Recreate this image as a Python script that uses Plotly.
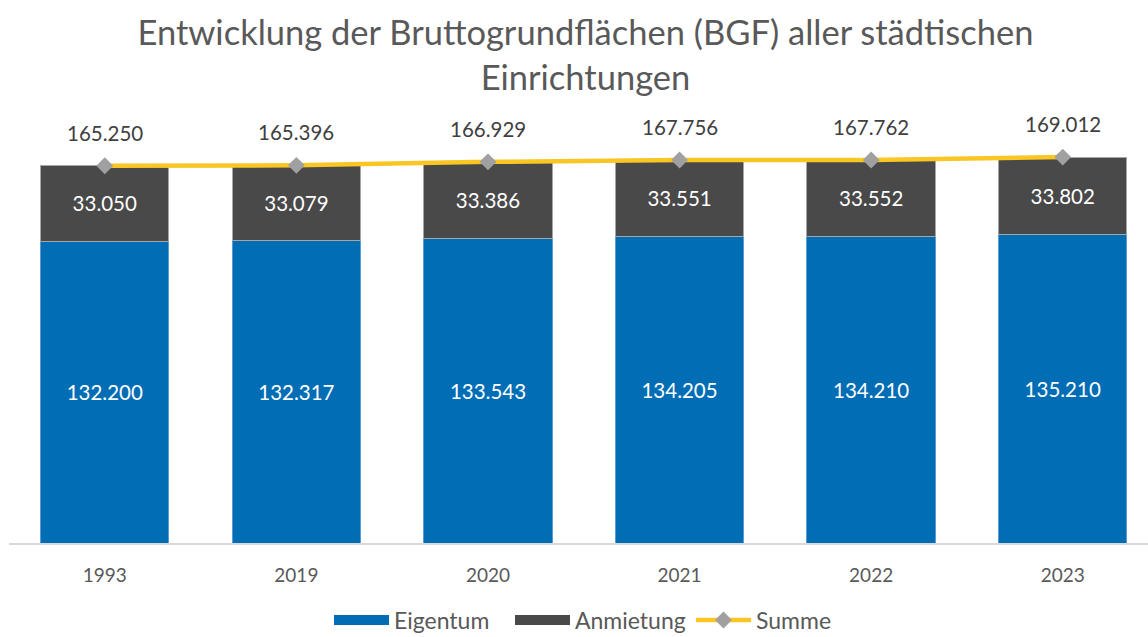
import plotly.graph_objects as go

years = ["1993", "2019", "2020", "2021", "2022", "2023"]
eigentum = [132200, 132317, 133543, 134205, 134210, 135210]
anmietung = [33050, 33079, 33386, 33551, 33552, 33802]
summe = [165250, 165396, 166929, 167756, 167762, 169012]

BLUE = "#006DB5"
DARK = "#494949"
YELLOW = "#F9C623"
GRAYM = "#A0A0A0"
TXT = "#595959"
FONT = "Lato"

def fmt(v):
    return f"{v:,}".replace(",", ".")

fig = go.Figure()
fig.add_trace(go.Bar(
    x=years, y=eigentum, name="Eigentum", marker=dict(color=BLUE, line=dict(color="#5B9BD5", width=1)),
    text=[fmt(v) for v in eigentum], textposition="inside", insidetextanchor="middle",
    textfont=dict(color="white", size=20.5, family=FONT), showlegend=False,
    hoverinfo="skip"))
fig.add_trace(go.Bar(
    x=years, y=anmietung, name="Anmietung", marker=dict(color=DARK, line=dict(color="#A6A6A6", width=1)),
    text=[fmt(v) for v in anmietung], textposition="inside", insidetextanchor="middle",
    textfont=dict(color="white", size=20.5, family=FONT), showlegend=False,
    hoverinfo="skip"))
fig.add_trace(go.Scatter(
    x=years, y=summe, name="Summe", mode="lines+markers",
    line=dict(color=YELLOW, width=4.5),
    marker=dict(symbol="diamond", size=13, color=GRAYM), showlegend=False))

# legend-only entries
fig.add_trace(go.Scatter(x=[None], y=[None], mode="lines", name="Eigentum",
                         line=dict(color=BLUE, width=12)))
fig.add_trace(go.Scatter(x=[None], y=[None], mode="lines", name="Anmietung",
                         line=dict(color=DARK, width=12)))
fig.add_trace(go.Scatter(x=[None], y=[None], mode="lines+markers", name="Summe",
                         line=dict(color=YELLOW, width=4.5),
                         marker=dict(symbol="diamond", size=13, color=GRAYM)))

for i, v in enumerate(summe):
    fig.add_annotation(x=i, y=v, text=fmt(v), showarrow=False, yshift=33,
                       font=dict(size=20.5, color="#404040", family=FONT))

fig.update_layout(
    width=1148, height=637,
    paper_bgcolor="white", plot_bgcolor="white",
    barmode="stack", bargap=0.33,
    separators=",.",
    margin=dict(l=9, r=0, t=132, b=94, autoexpand=False),
    title=dict(text="Entwicklung der Bruttogrundflächen (BGF) aller städtischen<br>Einrichtungen",
               x=0.51, xanchor="center", yref="container", y=1 - 45 / 637, yanchor="middle",
               font=dict(size=34.5, color=TXT, family=FONT)),
    font=dict(family=FONT, color=TXT),
    legend=dict(orientation="h", x=(335 - 9 - 6) / 1139, xanchor="left",
                y=-(620 - 543) / 411, yanchor="middle",
                font=dict(size=23, color=TXT, family=FONT), itemwidth=55,
                entrywidth=111, entrywidthmode="pixels",
                traceorder="normal"),
    xaxis=dict(type="category", range=[-0.5, 5.445], showline=True, linecolor="#D9D9D9",
               linewidth=2, ticks="outside", ticklen=14, tickcolor="rgba(0,0,0,0)",
               tickfont=dict(size=19, color=TXT, family=FONT), showgrid=False),
    yaxis=dict(range=[0, 180000], visible=False, showgrid=False),
)

fig.write_html("out.html", config={"displayModeBar": False},
               post_script="document.body.style.margin='0px';")
